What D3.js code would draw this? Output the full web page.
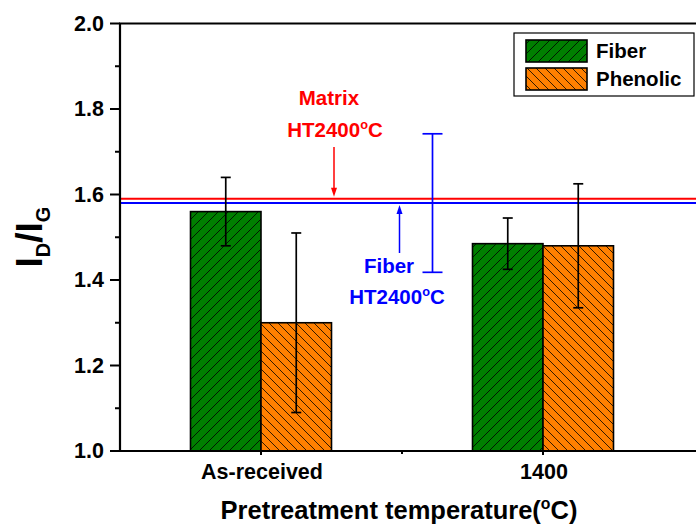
<!DOCTYPE html>
<html><head><meta charset="utf-8">
<script src="https://cdn.jsdelivr.net/npm/d3@7"></script>
<style>body{margin:0;background:#fff}svg{display:block}text{font-family:"Liberation Sans",Arial,sans-serif;font-weight:bold}</style>
</head><body><svg id="c" width="696" height="524"></svg>
<script>
const categories = ["As-received", "1400"];
const seriesNames = ["Fiber", "Phenolic"];
const fiberValues = [1.56, 1.485];
const fiberErrors = [0.08, 0.06];
const phenolicValues = [1.30, 1.48];
const phenolicErrors = [0.21, 0.145];
const matrixHT2400 = 1.59;
const fiberHT2400 = 1.58;
const fiberHT2400Error = 0.162;
const yTicks = [1.0, 1.2, 1.4, 1.6, 1.8, 2.0];

(function(){
const svg = d3.select("#c");
const left = 120, topY = 23.5, bottom = 451, rightEdge = 700;
const y = d3.scaleLinear().domain([1.0, 2.0]).range([bottom, topY]);
const x = d3.scaleLinear().domain([0.5, 2.5]).range([left, 684]);
const barW = 0.25;

const defs = svg.append("defs");
function hatch(id, fill, dir, sp) {
  const p = defs.append("pattern").attr("id", id).attr("patternUnits", "userSpaceOnUse")
    .attr("width", sp).attr("height", sp);
  p.append("rect").attr("width", sp).attr("height", sp).attr("fill", fill);
  if (dir > 0) {
    p.append("path").attr("d", `M0,${sp} L${sp},0 M${-sp/2},${sp/2} L${sp/2},${-sp/2} M${sp/2},${sp*1.5} L${sp*1.5},${sp/2}`)
      .attr("stroke", "#000").attr("stroke-width", 0.8);
  } else {
    p.append("path").attr("d", `M0,0 L${sp},${sp} M${-sp/2},${sp/2} L${sp/2},${sp*1.5} M${sp/2},${-sp/2} L${sp*1.5},${sp/2}`)
      .attr("stroke", "#000").attr("stroke-width", 0.8);
  }
}
hatch("hg", "#007f00", 1, 10);
hatch("ho", "#ff8000", -1, 9);

const series = [
  {name: seriesNames[0], vals: fiberValues, errs: fiberErrors, fill: "url(#hg)", off: -barW},
  {name: seriesNames[1], vals: phenolicValues, errs: phenolicErrors, fill: "url(#ho)", off: 0}
];
series.forEach(s => {
  s.vals.forEach((v, i) => {
    const cx = i + 1;
    svg.append("rect").attr("x", x(cx + s.off)).attr("y", y(v))
      .attr("width", x(cx + s.off + barW) - x(cx + s.off)).attr("height", y(1.0) - y(v))
      .attr("fill", s.fill).attr("stroke", "#000").attr("stroke-width", 1.6);
  });
});

svg.append("line").attr("x1", left).attr("x2", rightEdge).attr("y1", y(matrixHT2400)).attr("y2", y(matrixHT2400))
  .attr("stroke", "#ff0000").attr("stroke-width", 2);
svg.append("line").attr("x1", left).attr("x2", rightEdge).attr("y1", y(fiberHT2400)).attr("y2", y(fiberHT2400))
  .attr("stroke", "#0000ff").attr("stroke-width", 2);

series.forEach(s => {
  s.vals.forEach((v, i) => {
    const cx = x(i + 1 + s.off + barW / 2);
    const g = svg.append("g").attr("stroke", "#000").attr("stroke-width", 1.7);
    g.append("line").attr("x1", cx).attr("x2", cx).attr("y1", y(v + s.errs[i])).attr("y2", y(v - s.errs[i]));
    [v + s.errs[i], v - s.errs[i]].forEach(e => g.append("line").attr("x1", cx - 5).attr("x2", cx + 5).attr("y1", y(e)).attr("y2", y(e)));
  });
});

{
  const bx = 432.5;
  const g = svg.append("g").attr("stroke", "#0000ff").attr("stroke-width", 1.7);
  g.append("line").attr("x1", bx).attr("x2", bx).attr("y1", y(fiberHT2400 + fiberHT2400Error)).attr("y2", y(fiberHT2400 - fiberHT2400Error));
  [fiberHT2400 + fiberHT2400Error, fiberHT2400 - fiberHT2400Error].forEach(e =>
    g.append("line").attr("x1", bx - 10).attr("x2", bx + 10).attr("y1", y(e)).attr("y2", y(e)));
}

function arrow(xp, y1, y2, color) {
  const dir = y2 > y1 ? 1 : -1;
  svg.append("line").attr("x1", xp).attr("x2", xp).attr("y1", y1).attr("y2", y2 - dir * 8)
    .attr("stroke", color).attr("stroke-width", 1.5);
  svg.append("path").attr("d", `M${xp},${y2} L${xp - 3},${y2 - dir * 9} L${xp + 3},${y2 - dir * 9} Z`).attr("fill", color);
}
arrow(334, 147, y(matrixHT2400) - 2, "#ff0000");
arrow(399.5, 253, y(fiberHT2400) + 2, "#0000ff");

function degText(xp, yp, pre, post, color, size, anchor) {
  const t = svg.append("text").attr("x", xp).attr("y", yp).attr("fill", color)
    .attr("font-size", size).attr("text-anchor", anchor || "middle");
  t.append("tspan").text(pre);
  t.append("tspan").attr("dy", -size * 0.4).attr("font-size", size * 0.62).text("o");
  t.append("tspan").attr("dy", size * 0.4).text(post);
  return t;
}
svg.append("text").attr("x", 329).attr("y", 105).attr("fill", "#ff0000").attr("font-size", 20.5).attr("text-anchor", "middle").text("Matrix");
degText(335, 137, "HT2400", "C", "#ff0000", 20.5);
svg.append("text").attr("x", 389).attr("y", 273).attr("fill", "#0000ff").attr("font-size", 20.5).attr("text-anchor", "middle").text("Fiber");
degText(397, 304, "HT2400", "C", "#0000ff", 20.5);

const yAxis = svg.append("g").attr("transform", `translate(${left},0)`);
yAxis.append("line").attr("x1", 0).attr("x2", 0).attr("y1", topY).attr("y2", bottom).attr("stroke", "#000").attr("stroke-width", 2.2);
yTicks.forEach(t => {
  yAxis.append("line").attr("x1", -10).attr("x2", 0).attr("y1", y(t)).attr("y2", y(t)).attr("stroke", "#000").attr("stroke-width", 2);
  yAxis.append("text").attr("x", -16).attr("y", y(t)).attr("dy", "0.33em").attr("text-anchor", "end").attr("font-size", 21.5).text(t.toFixed(1));
});
d3.range(1.1, 2.0, 0.2).forEach(t => {
  yAxis.append("line").attr("x1", -5).attr("x2", 0).attr("y1", y(t)).attr("y2", y(t)).attr("stroke", "#000").attr("stroke-width", 2);
});
svg.append("line").attr("x1", left - 1).attr("x2", rightEdge).attr("y1", topY).attr("y2", topY).attr("stroke", "#000").attr("stroke-width", 2.2);
svg.append("line").attr("x1", left - 1).attr("x2", rightEdge).attr("y1", bottom).attr("y2", bottom).attr("stroke", "#000").attr("stroke-width", 2.2);
categories.forEach((c, i) => {
  svg.append("line").attr("x1", x(i + 1)).attr("x2", x(i + 1)).attr("y1", bottom).attr("y2", bottom + 4).attr("stroke", "#000").attr("stroke-width", 2);
  svg.append("text").attr("x", x(i + 1) + 1).attr("y", 479).attr("text-anchor", "middle").attr("font-size", 21.5).text(c);
});
svg.append("line").attr("x1", x(1.5)).attr("x2", x(1.5)).attr("y1", bottom).attr("y2", bottom + 3).attr("stroke", "#000").attr("stroke-width", 2);

degText(399, 519, "Pretreatment temperature(", "C)", "#000", 25.5);
const yt = svg.append("text").attr("transform", "translate(42,237) rotate(-90)").attr("text-anchor", "middle").attr("font-size", 37);
yt.append("tspan").text("I");
yt.append("tspan").attr("dy", 8).attr("font-size", 20).text("D");
yt.append("tspan").attr("dy", -8).text("/I");
yt.append("tspan").attr("dy", 8).attr("font-size", 20).text("G");

const lg = svg.append("g");
lg.append("rect").attr("x", 514).attr("y", 33).attr("width", 180).attr("height", 63).attr("fill", "#fff").attr("stroke", "#000").attr("stroke-width", 1.2);
[["url(#hg)", seriesNames[0], 40], ["url(#ho)", seriesNames[1], 68]].forEach(([f, n, yy]) => {
  lg.append("rect").attr("x", 526).attr("y", yy).attr("width", 61).attr("height", 22).attr("fill", f).attr("stroke", "#000").attr("stroke-width", 1.6);
  lg.append("text").attr("x", 596).attr("y", yy + 18).attr("font-size", 20.5).text(n);
});
})();
</script></body></html>
